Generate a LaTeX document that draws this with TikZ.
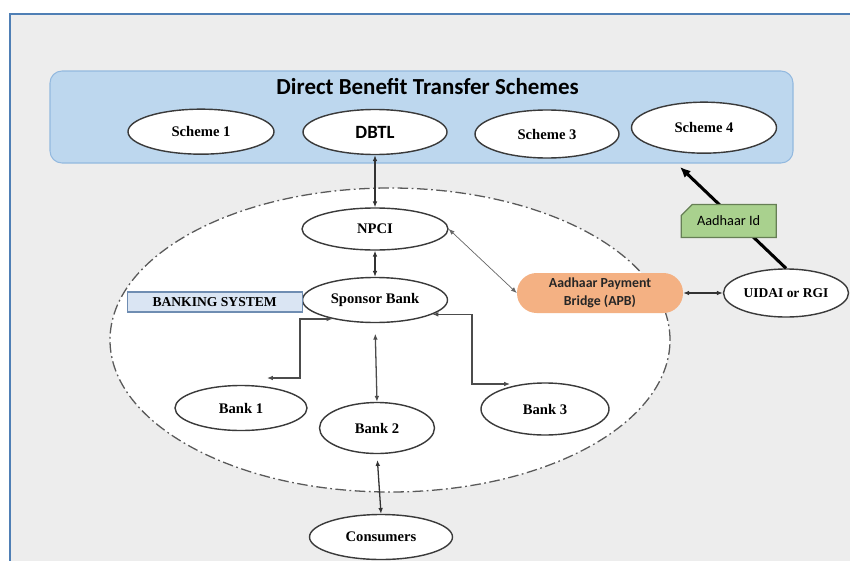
\documentclass[tikz,border=0pt]{standalone}
\usepackage{fontspec}
\setmainfont{Liberation Serif}
\newfontfamily\calibri{Carlito}
\usetikzlibrary{shapes.geometric,shapes.misc,arrows.meta}

\definecolor{framefill}{HTML}{EDEDED}
\definecolor{frameline}{HTML}{4F7FB5}
\definecolor{dbtfill}{HTML}{BDD7EE}
\definecolor{dbtline}{HTML}{93B9DF}
\definecolor{bankfill}{HTML}{DAE5F3}
\definecolor{bankline}{HTML}{6F8DB2}
\definecolor{apbfill}{HTML}{F4B183}
\definecolor{idfill}{HTML}{A9D18E}
\definecolor{idline}{HTML}{667F55}
\definecolor{ovalline}{HTML}{3A3A3A}
\definecolor{dashline}{HTML}{5A5A5A}

\begin{document}
\begin{tikzpicture}[
  conn/.style = {draw = black!80, line width = 1.1pt,
    {Latex[length=5pt, width=4pt]}-{Latex[length=5pt, width=4pt]}},
  serifbold/.style = {font = \bfseries\fontsize{12.5}{15}\selectfont}
]
\useasboundingbox (0, 0) rectangle (25.5cm, -16.8cm);
\clip (0, 0) rectangle (25.5cm, -16.8cm);
\def\oval#1#2{node [ellipse, draw = ovalline, line width = 1.2pt, fill = white, inner sep = 0, minimum width = #1, minimum height = #2, serifbold] }

\draw [fill = framefill, draw = frameline, line width = 1.8pt] (.3cm, -.42cm) rectangle (26cm, -17.5cm);

\draw (12.645cm, -3.51cm) node [rectangle, rounded corners = .36cm, fill = dbtfill, draw = dbtline, line width = .9pt, minimum width = 22.29cm, minimum height = 2.76cm] (dbt) {};
\node [font = \calibri\bfseries\fontsize{19.6}{22}\selectfont] (title) at (12.83cm, -2.61cm) {Direct Benefit Transfer Schemes};

\draw (6.03cm, -3.95cm) \oval{4.38cm}{1.35cm} (schemeone) {Scheme 1};
\draw (11.25cm, -3.96cm) \oval{4.32cm}{1.35cm} (dbtl) {\calibri\fontsize{16}{18}\selectfont DBTL};
\draw (16.41cm, -4.02cm) \oval{4.32cm}{1.44cm} (schemethree) {Scheme 3};
\draw (21.12cm, -3.83cm) \oval{4.35cm}{1.53cm} (schemefour) {Scheme 4};

\draw (11.7cm, -10.2cm) node [ellipse, fill = white, draw = dashline, line width = 1.1pt, dash pattern = on 9pt off 3pt on 1.5pt off 3pt, minimum width = 16.8cm, minimum height = 9.12cm] (banking) {};

\draw (11.25cm, -6.87cm) \oval{4.38cm}{1.26cm} (npci) {NPCI};
\draw (11.25cm, -9cm) \oval{4.35cm}{1.35cm} (sponsor) {Sponsor Bank};
\draw (7.23cm, -12.24cm) \oval{3.96cm}{1.35cm} (bankone) {Bank 1};
\draw (11.31cm, -12.84cm) \oval{3.45cm}{1.53cm} (banktwo) {Bank 2};
\draw (16.35cm, -12.27cm) \oval{3.84cm}{1.56cm} (bankthree) {Bank 3};
\draw (11.43cm, -16.11cm) \oval{4.29cm}{1.35cm} (consumers) {Consumers};
\draw (23.58cm, -8.79cm) \oval{3.75cm}{1.44cm} (uidai) {\fontsize{11.5}{14}\selectfont UIDAI or RGI};

\node [rectangle, fill = bankfill, draw = bankline, line width = 1pt, minimum width = 5.25cm, minimum height = .6cm, inner sep = 0, font = \bfseries\fontsize{11.6}{13}\selectfont] (bankingsystem) at (6.44cm, -9.06cm) {BANKING SYSTEM};

\node [rectangle, rounded corners = .59cm, fill = apbfill, minimum width = 4.98cm, minimum height = 1.2cm, inner sep = 0, align = center, font = \calibri\bfseries\fontsize{11.8}{15.4}\selectfont, text = black!85] (apb) at (18cm, -8.79cm) {Aadhaar Payment\\Bridge (APB)};

\coordinate (bonetip) at (8.01cm, -11.34cm);
\coordinate (bthreetip) at (15.3cm, -11.52cm);
\coordinate (dbttip) at (20.4cm, -5.01cm);

\draw [conn] (dbtl.south) -- (npci.north);
\draw [conn] (npci.south) -- (sponsor.south |- sponsor.north);
\draw [conn, draw = black!70] (sponsor.204) -| ([xshift = .99cm]bonetip) -- (bonetip);
\draw [conn, draw = black!70, shorten <= 9pt] (sponsor.south) -- (banktwo.north);
\draw [conn, draw = black!70] (sponsor.346) -| ([xshift = -1.14cm]bthreetip) -- (bthreetip);
\draw [conn, shorten <= 5pt] (banktwo.south) -- (consumers.north);
\draw [conn, draw = black!60, line width = .6pt] (npci.east) -- (apb.west);
\draw [conn, line width = 1.5pt] (apb.east) -- (uidai.west);
\draw [line width = 2.6pt, -{Latex[length = 9pt, width = 8pt]}] (uidai.north) -- (dbttip);

\node [chamfered rectangle, chamfered rectangle corners = north west, chamfered rectangle xsep = .57cm, chamfered rectangle ysep = .18cm, fill = idfill, draw = idline, line width = 1pt, minimum width = 2.85cm, minimum height = .99cm, inner sep = 0, font = \calibri\fontsize{12.2}{14}\selectfont] (aadhaarid) at (21.86cm, -6.63cm) {Aadhaar Id};
\end{tikzpicture}
\end{document}
